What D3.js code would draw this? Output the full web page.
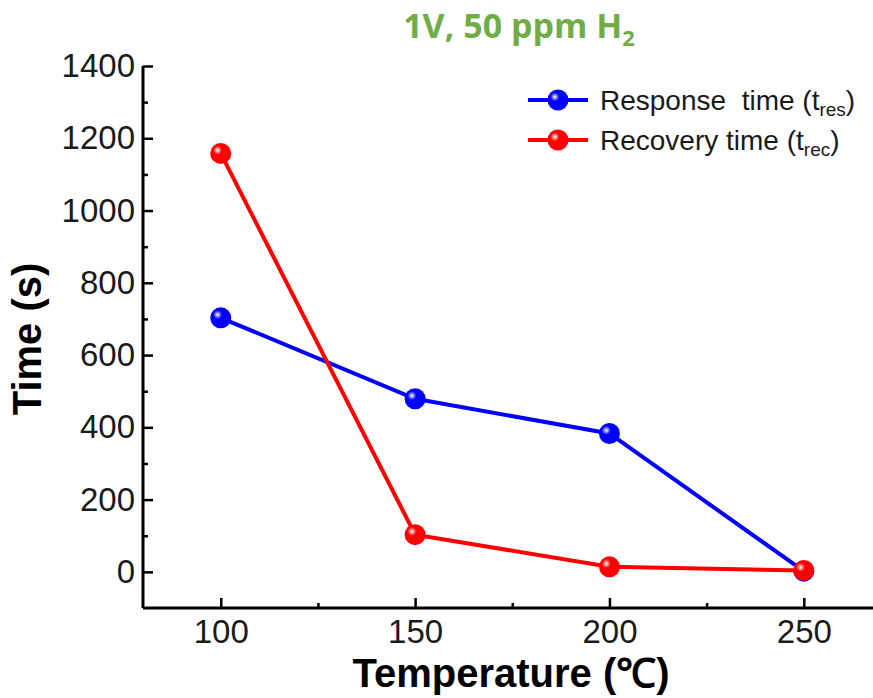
<!DOCTYPE html>
<html>
<head>
<meta charset="utf-8">
<script src="https://cdn.jsdelivr.net/npm/d3@7"></script>
<style>
  body { margin: 0; background: #fff; }
  svg { display: block; }
</style>
</head>
<body>
<svg id="chart"></svg>
<script>
// data
var temps = [100, 150, 200, 250];
var responseTime = [703, 479, 383, 2];
var recoveryTime = [1158, 103, 14, 4];
var xTicks = [100, 150, 200, 250];
var yTicks = [0, 200, 400, 600, 800, 1000, 1200, 1400];
var seriesNames = ["Response  time", "Recovery time"];
var seriesSubs = ["res", "rec"];

var width = 873, height = 698;
var margin = {left: 143, top: 66, right: 0, bottom: 90};

var svg = d3.select("#chart")
    .attr("width", width)
    .attr("height", height);

var x = d3.scaleLinear().domain([80, 267.8]).range([margin.left, width]);
var y = d3.scaleLinear().domain([-100, 1400]).range([height - margin.bottom, margin.top]);

// gradients for the shiny markers
var defs = svg.append("defs");
function ball(id, col) {
  var g = defs.append("radialGradient").attr("id", id)
      .attr("cx", "0.35").attr("cy", "0.35").attr("r", "0.7");
  g.append("stop").attr("offset", "0").attr("stop-color", "#fff");
  g.append("stop").attr("offset", "0.3").attr("stop-color", col);
  g.append("stop").attr("offset", "1").attr("stop-color", col);
}
ball("gBlue", "#0000ff");
ball("gRed", "#ff0000");

// axes (ticks pointing inward)
var fmt = d3.format("d");
var xAxis = d3.axisBottom(x).tickValues(xTicks).tickSize(-10).tickPadding(12).tickFormat(fmt);
var xMinor = d3.axisBottom(x).tickValues([125, 175, 225]).tickSize(-5).tickFormat("");
var yAxis = d3.axisLeft(y).tickValues(yTicks).tickSize(-10).tickPadding(8).tickFormat(fmt);
var yMinor = d3.axisLeft(y).tickValues([100, 300, 500, 700, 900, 1100, 1300]).tickSize(-5).tickFormat("");

var gx = svg.append("g").attr("transform", "translate(0," + y(-100) + ")").call(xAxis);
var gxm = svg.append("g").attr("transform", "translate(0," + y(-100) + ")").call(xMinor);
var gy = svg.append("g").attr("transform", "translate(" + x(80) + ",0)").call(yAxis);
var gym = svg.append("g").attr("transform", "translate(" + x(80) + ",0)").call(yMinor);

gxm.select(".domain").remove();
gym.select(".domain").remove();
gy.select(".domain").attr("d", "M0," + y(1400) + "V" + y(-100));
gx.select(".domain").attr("d", "M" + x(80) + ",0H" + width);

svg.selectAll(".domain").attr("stroke", "#000").attr("stroke-width", 3);
svg.selectAll(".tick line").attr("stroke", "#000").attr("stroke-width", 2.5);
svg.selectAll(".tick text")
    .attr("font-family", "Liberation Sans, Arial, sans-serif")
    .attr("font-size", 33)
    .attr("fill", "#1a1a1a");

// lines
var line = d3.line().x(function(d, i) { return x(temps[i]); }).y(function(d) { return y(d); });

svg.append("path").datum(responseTime).attr("d", line)
    .attr("fill", "none").attr("stroke", "#0000ff").attr("stroke-width", 4);
svg.append("path").datum(recoveryTime).attr("d", line)
    .attr("fill", "none").attr("stroke", "#ff0000").attr("stroke-width", 4);

svg.append("g").selectAll("circle").data(responseTime).enter().append("circle")
    .attr("cx", function(d, i) { return x(temps[i]); })
    .attr("cy", function(d) { return y(d); })
    .attr("r", 10.5).attr("fill", "url(#gBlue)");
svg.append("g").selectAll("circle").data(recoveryTime).enter().append("circle")
    .attr("cx", function(d, i) { return x(temps[i]); })
    .attr("cy", function(d) { return y(d); })
    .attr("r", 10.5).attr("fill", "url(#gRed)");

// legend
var colors = ["#0000ff", "#ff0000"];
var grads = ["url(#gBlue)", "url(#gRed)"];
var leg = svg.append("g").attr("transform", "translate(528,100)");
seriesNames.forEach(function(name, i) {
  var row = leg.append("g").attr("transform", "translate(0," + (i * 40) + ")");
  row.append("line").attr("x1", 0).attr("x2", 60).attr("y1", 0).attr("y2", 0)
      .attr("stroke", colors[i]).attr("stroke-width", 4);
  row.append("circle").attr("cx", 30).attr("cy", 0).attr("r", 10.5).attr("fill", grads[i]);
  var t = row.append("text").attr("x", 72).attr("y", 10)
      .attr("xml:space", "preserve")
      .style("white-space", "pre")
      .attr("font-family", "Liberation Sans, Arial, sans-serif")
      .attr("font-size", 28).attr("fill", "#1a1a1a");
  t.append("tspan").text(name + " (t");
  t.append("tspan").attr("font-size", 19).attr("dy", 6).text(seriesSubs[i]);
  t.append("tspan").attr("dy", -6).text(")");
});

// titles
var title = svg.append("text").attr("x", 519).attr("y", 38)
    .attr("text-anchor", "middle")
    .attr("font-family", "Open Sans, Noto Sans, sans-serif")
    .attr("font-weight", "bold").attr("font-size", 34).attr("fill", "#70ad47");
title.append("tspan").text("1V, 50 ppm H");
title.append("tspan").attr("font-size", 22).attr("dy", 8).text("2");

svg.append("text").attr("transform", "translate(41,339) rotate(-90)")
    .attr("text-anchor", "middle")
    .attr("font-family", "Liberation Sans, Arial, sans-serif")
    .attr("font-weight", "bold").attr("font-size", 40).attr("fill", "#000")
    .text("Time (s)");

svg.append("text").attr("x", 511).attr("y", 687)
    .attr("text-anchor", "middle")
    .attr("font-family", "Liberation Sans, Arial, sans-serif")
    .attr("font-weight", "bold").attr("font-size", 40).attr("fill", "#000")
    .text("Temperature (℃)");
</script>
</body>
</html>
